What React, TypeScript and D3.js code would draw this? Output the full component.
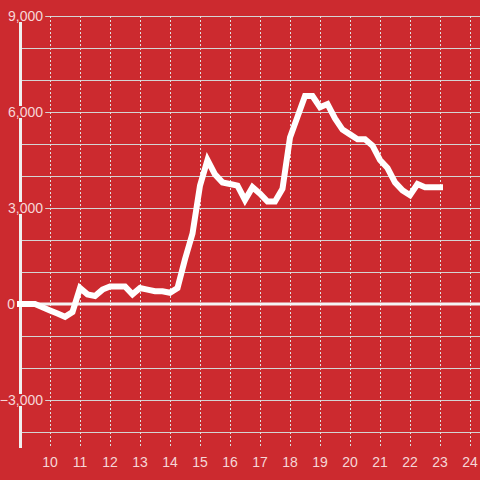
import { useEffect, useRef } from "react";
import * as d3 from "d3";

const hours = [
  9, 9.25, 9.5, 9.75, 10, 10.25, 10.5, 10.75, 11, 11.25, 11.5, 11.75, 12, 12.25, 12.5, 12.75,
  13, 13.25, 13.5, 13.75, 14, 14.25, 14.5, 14.75, 15, 15.25, 15.5, 15.75, 16, 16.25, 16.5, 16.75,
  17, 17.25, 17.5, 17.75, 18, 18.25, 18.5, 18.75, 19, 19.25, 19.5, 19.75, 20, 20.25, 20.5, 20.75,
  21, 21.25, 21.5, 21.75, 22, 22.25, 22.5, 22.75, 23,
];
const values = [
  0, 0, 0, -100, -200, -300, -400, -250, 500, 300, 250, 450, 550, 550, 550, 300,
  500, 450, 400, 400, 350, 500, 1400, 2200, 3700, 4500, 4050, 3800, 3750, 3700, 3250, 3650,
  3450, 3200, 3200, 3600, 5200, 5850, 6500, 6500, 6150, 6250, 5800, 5450, 5300, 5150, 5150, 4950,
  4500, 4250, 3800, 3550, 3400, 3750, 3650, 3650, 3650,
];
const xTicks = [10, 11, 12, 13, 14, 15, 16, 17, 18, 19, 20, 21, 22, 23, 24];
const yGrid = [-4000, -3000, -2000, -1000, 1000, 2000, 3000, 4000, 5000, 6000, 7000, 8000, 9000];
const yLabels = [-3000, 0, 3000, 6000, 9000];

const W = 480;
const H = 480;
const BG = "#cc2a2f";

export default function App() {
  const ref = useRef<SVGSVGElement | null>(null);

  useEffect(() => {
    const svg = d3.select(ref.current!);
    svg.selectAll("*").remove();

    const x = d3.scaleLinear().domain([9, 24]).range([20, 470]);
    const y = d3.scaleLinear().domain([-4500, 9000]).range([448, 16]);
    const x0 = x(9);

    svg.append("rect").attr("width", W).attr("height", H).attr("fill", BG);

    // horizontal grid
    svg
      .append("g")
      .selectAll("line")
      .data(yGrid)
      .join("line")
      .attr("x1", x0 + 2)
      .attr("x2", W)
      .attr("y1", (d) => Math.round(y(d)) + 0.5)
      .attr("y2", (d) => Math.round(y(d)) + 0.5)
      .attr("stroke", "#d4d4d4")
      .attr("stroke-width", 1);

    // vertical dotted grid
    svg
      .append("g")
      .selectAll("line")
      .data(xTicks)
      .join("line")
      .attr("x1", (d) => Math.round(x(d)) + 0.5)
      .attr("x2", (d) => Math.round(x(d)) + 0.5)
      .attr("y1", y(9000))
      .attr("y2", y(-4500))
      .attr("stroke", "#e0e0e0")
      .attr("stroke-width", 1)
      .attr("stroke-dasharray", "2,2");

    // y axis line
    svg
      .append("line")
      .attr("x1", x0 + 0.5)
      .attr("x2", x0 + 0.5)
      .attr("y1", y(9000))
      .attr("y2", y(-4500))
      .attr("stroke", "#f0f0f0")
      .attr("stroke-width", 3);

    // zero line
    svg
      .append("line")
      .attr("x1", x0 - 3)
      .attr("x2", W)
      .attr("y1", y(0))
      .attr("y2", y(0))
      .attr("stroke", "#f4f4f4")
      .attr("stroke-width", 3);

    // y labels with background
    const fmt = d3.format(",");
    const lab = svg
      .append("g")
      .selectAll("g")
      .data(yLabels)
      .join("g")
      .attr("transform", (d) => `translate(${d === 0 ? 15 : 43},${y(d)})`);
    lab
      .append("text")
      .attr("text-anchor", "end")
      .attr("dominant-baseline", "central")
      .style("font", "14px 'Liberation Sans', Arial, sans-serif")
      .attr("fill", "#f6d6d7")
      .text((d) => fmt(d))
      .each(function () {
        const b = (this as SVGTextElement).getBBox();
        d3.select((this as SVGTextElement).parentNode as SVGGElement)
          .insert("rect", "text")
          .attr("x", b.x - 2)
          .attr("y", b.y + 2)
          .attr("width", b.width + 4)
          .attr("height", b.height - 4)
          .attr("fill", BG);
      });

    // x labels
    svg
      .append("g")
      .selectAll("text")
      .data(xTicks)
      .join("text")
      .attr("x", (d) => x(d))
      .attr("y", 462)
      .attr("text-anchor", "middle")
      .attr("dominant-baseline", "central")
      .style("font", "14px 'Liberation Sans', Arial, sans-serif")
      .attr("fill", "#f6d6d7")
      .text((d) => d);

    // data line
    const line = d3
      .line<number>()
      .x((_, i) => x(hours[i]))
      .y((d) => y(d));
    svg
      .append("path")
      .attr("d", line(values)!)
      .attr("fill", "none")
      .attr("stroke", "#ffffff")
      .attr("stroke-width", 6)
      .attr("stroke-linecap", "square")
      .attr("stroke-linejoin", "miter");
  }, []);

  return (
    <div style={{ position: "fixed", left: 0, top: 0, width: W, height: H, background: BG }}>
      <svg ref={ref} width={W} height={H} style={{ display: "block" }} />
    </div>
  );
}
